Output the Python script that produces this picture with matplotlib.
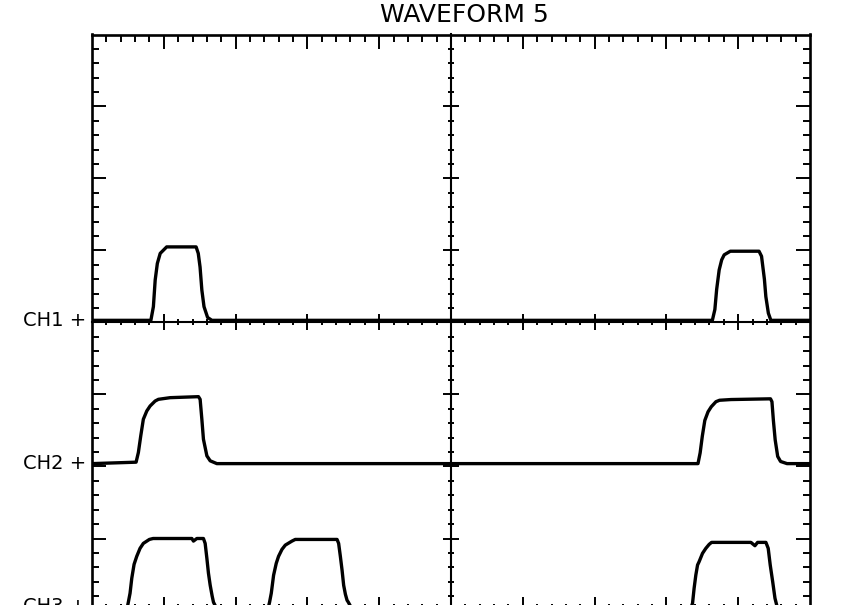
import matplotlib
matplotlib.use("Agg")
import matplotlib.pyplot as plt
from matplotlib.ticker import FixedLocator
import numpy as np

# ---------------- data (divisions) ----------------
title = "WAVEFORM 5"
channel_labels = ["CH1 +", "CH2 +", "CH3 +"]
channel_offsets = [0.03, -1.96, -3.94]

ch1_x = [0.00, 0.82, 0.855, 0.88, 0.91, 0.95, 0.99, 1.04, 1.45, 1.48, 1.505, 1.53, 1.56, 1.61, 1.67,
         8.64, 8.675, 8.70, 8.735, 8.77, 8.805, 8.89, 9.29, 9.325, 9.365, 9.385, 9.42, 9.455, 9.50, 10.00]
ch1_y = [0.00, 0.00, 0.19, 0.56, 0.79, 0.93, 0.97, 1.02, 1.02, 0.93, 0.74, 0.42, 0.19, 0.04, 0.00,
         0.00, 0.15, 0.43, 0.70, 0.84, 0.91, 0.96, 0.96, 0.89, 0.57, 0.33, 0.10, 0.00, 0.00, 0.00]

ch2_x = [0.00, 0.614, 0.646, 0.679, 0.715, 0.763, 0.809, 0.879, 0.925, 1.088, 1.483, 1.506, 1.530, 1.552, 1.600, 1.646, 1.739,
         8.44, 8.47, 8.50, 8.535, 8.58, 8.625, 8.69, 8.74, 8.90, 9.45, 9.47, 9.49, 9.515, 9.55, 9.59, 9.68, 10.00]
ch2_y = [0.00, 0.02, 0.155, 0.385, 0.616, 0.731, 0.800, 0.869, 0.893, 0.916, 0.930, 0.893, 0.616, 0.339, 0.108, 0.039, 0.000,
         0.00, 0.15, 0.38, 0.60, 0.72, 0.79, 0.86, 0.88, 0.89, 0.90, 0.86, 0.60, 0.33, 0.10, 0.03, 0.00, 0.00]

ch3_x = [0.00, 0.495, 0.506, 0.530, 0.554, 0.586, 0.623, 0.669, 0.715, 0.799, 0.851, 1.391, 1.413, 1.460, 1.552, 1.576,
         1.600, 1.622, 1.646, 1.674, 1.692, 1.72,
         2.46, 2.473, 2.497, 2.529, 2.566, 2.598, 2.646, 2.692, 2.785, 2.831, 3.413, 3.435, 3.459, 3.483, 3.505, 3.529,
         3.552, 3.570, 3.60,
         8.35, 8.364, 8.386, 8.410, 8.434, 8.456, 8.503, 8.549, 8.595, 8.629, 9.177, 9.233, 9.270, 9.386, 9.418, 9.446,
         9.480, 9.512, 9.54, 10.00]
ch3_y = [0.00, 0.00, 0.055, 0.18, 0.388, 0.581, 0.692, 0.803, 0.872, 0.927, 0.94, 0.94, 0.904, 0.94, 0.94, 0.872,
         0.664, 0.457, 0.291, 0.138, 0.055, 0.00,
         0.00, 0.055, 0.18, 0.429, 0.595, 0.692, 0.789, 0.848, 0.904, 0.927, 0.927, 0.872, 0.692, 0.498, 0.291, 0.166,
         0.083, 0.055, 0.00,
         0.00, 0.04, 0.249, 0.433, 0.572, 0.619, 0.734, 0.803, 0.858, 0.886, 0.886, 0.840, 0.886, 0.886, 0.803, 0.572,
         0.342, 0.111, 0.00, 0.00]

traces_x = [ch1_x, ch2_x, ch3_x]
traces_y = [ch1_y, ch2_y, ch3_y]

# graticule: 10 x 8 divisions, 5 subdivisions each
n_xdiv, n_ydiv, n_sub = 10, 8, 5

# ---------------- layout ----------------
W, H = 847, 605
fig = plt.figure(figsize=(W / 100, H / 100), dpi=100)
fig.patch.set_facecolor("white")
left, right, top, bottom = 92, 810, 34.5, 610.5
rect = [left / W, 1 - bottom / H, (right - left) / W, (bottom - top) / H]

x_major = np.arange(1, n_xdiv)
x_minor = [i / n_sub for i in range(1, n_xdiv * n_sub) if i % n_sub]
y_major = np.arange(-n_ydiv // 2 + 1, n_ydiv // 2)
y_minor = [i / n_sub - n_ydiv / 2 for i in range(1, n_ydiv * n_sub) if i % n_sub]


def set_locators(a):
    a.xaxis.set_major_locator(FixedLocator(x_major))
    a.xaxis.set_minor_locator(FixedLocator(x_minor))
    a.yaxis.set_major_locator(FixedLocator(y_major))
    a.yaxis.set_minor_locator(FixedLocator(y_minor))


# outer graticule frame
ax = fig.add_axes(rect)
ax.set_xlim(0, n_xdiv)
ax.set_ylim(-n_ydiv / 2, n_ydiv / 2)
for s in ax.spines.values():
    s.set_linewidth(1.9)
set_locators(ax)
ax.tick_params(which="both", direction="in", top=True, right=True, bottom=True, left=True,
               labelbottom=False, labelleft=False, width=1.4, color="black")
ax.tick_params(which="major", length=10)
ax.tick_params(which="minor", length=5)

# centre crosshair lines with ticks
ax2 = fig.add_axes(rect)
ax2.patch.set_visible(False)
ax2.set_xlim(0, n_xdiv)
ax2.set_ylim(-n_ydiv / 2, n_ydiv / 2)
ax2.spines["top"].set_visible(False)
ax2.spines["right"].set_visible(False)
ax2.spines["left"].set_position(("data", n_xdiv / 2))
ax2.spines["bottom"].set_position(("data", 0))
ax2.spines["left"].set_linewidth(1.5)
ax2.spines["bottom"].set_linewidth(1.5)
set_locators(ax2)
ax2.tick_params(which="both", direction="inout", labelbottom=False, labelleft=False,
                width=1.4, color="black")
ax2.tick_params(which="major", length=11)
ax2.tick_params(which="minor", length=5)

# traces
for xs, ys, off in zip(traces_x, traces_y, channel_offsets):
    ax2.plot(xs, off + np.asarray(ys), color="black", lw=2.4,
             solid_joinstyle="round", solid_capstyle="round", zorder=5)

# channel labels
for lab, off in zip(channel_labels, channel_offsets):
    ax2.text(-0.08, off, lab, ha="right", va="center", fontsize=14,
             family="DejaVu Sans", color="black", clip_on=False)

fig.text(464 / W, 1 - 15 / H, title, ha="center", va="center", fontsize=18,
         family="DejaVu Sans", color="black")

fig.savefig("out.png", dpi=100)
